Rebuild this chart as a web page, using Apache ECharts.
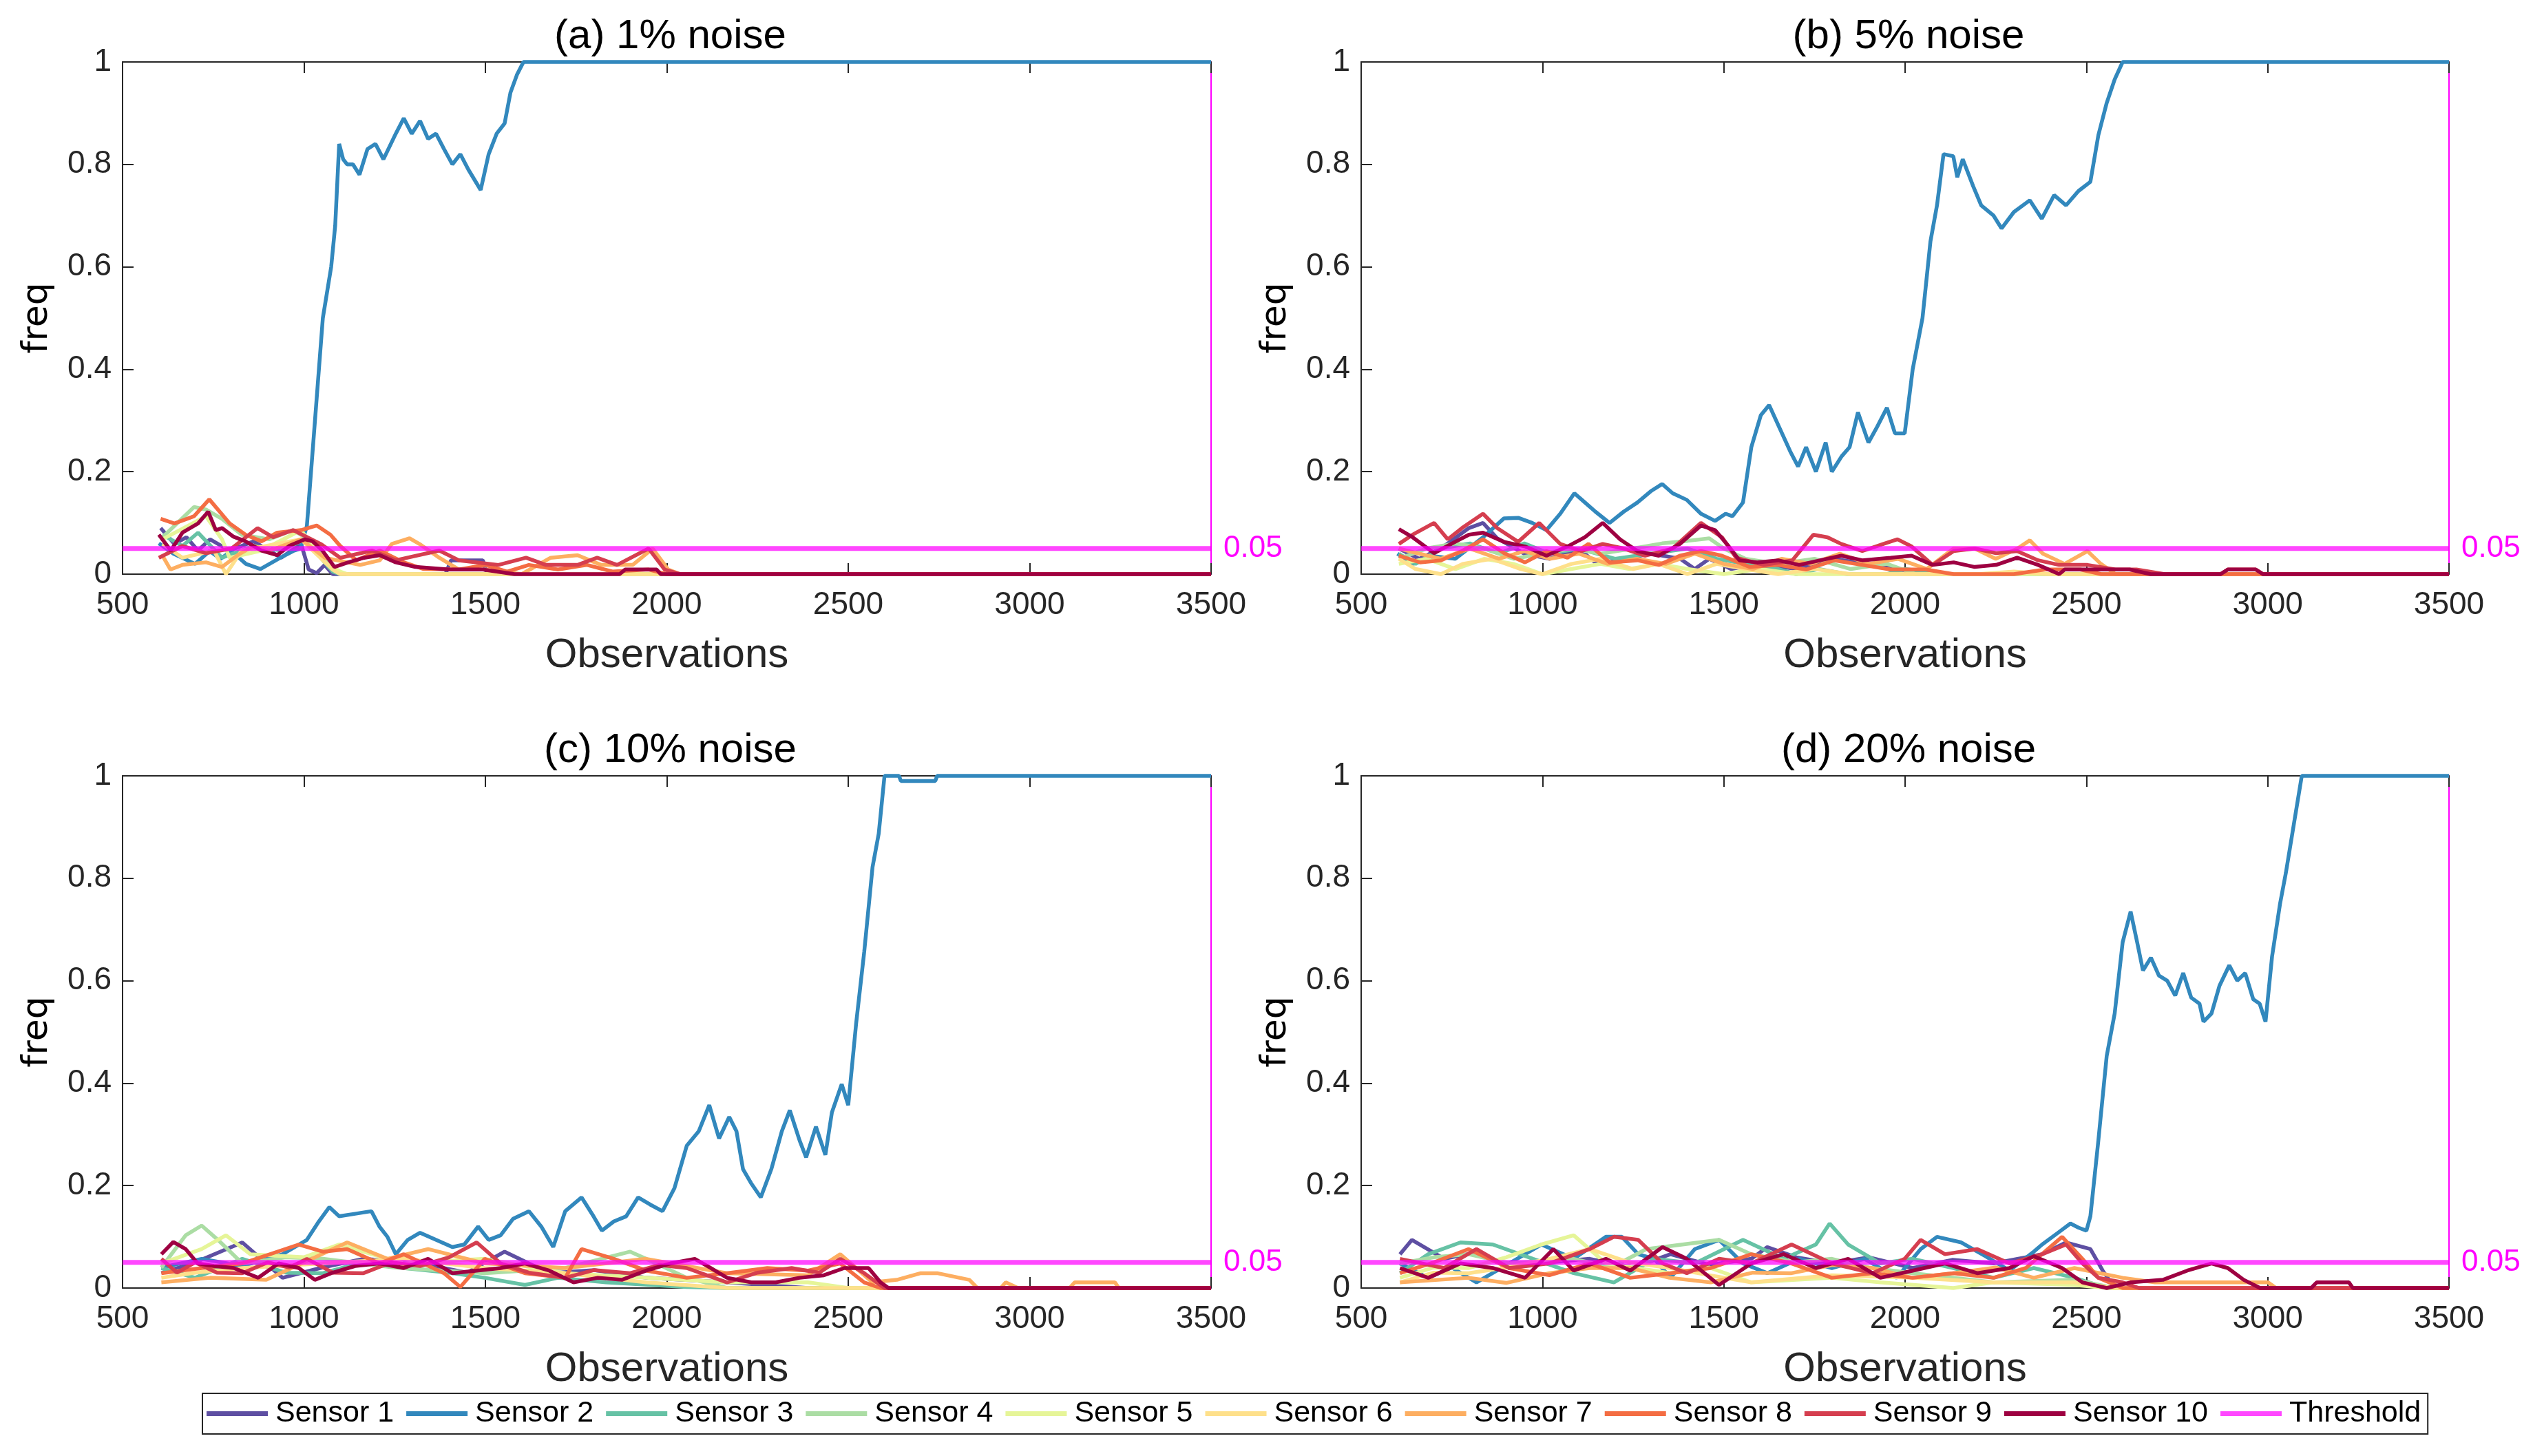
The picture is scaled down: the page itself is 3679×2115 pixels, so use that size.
<!DOCTYPE html>
<html>
<head>
<meta charset="utf-8">
<script src="https://cdn.jsdelivr.net/npm/echarts@6/dist/echarts.min.js"></script>
<style>
html,body{margin:0;padding:0;background:#fff;}
#chart{width:3679px;height:2115px;}
</style>
</head>
<body>
<div id="chart"></div>
<script>
// ---------- data ----------
const titles = ['(a) 1% noise', '(b) 5% noise', '(c) 10% noise', '(d) 20% noise'];
const sensorNames = ['Sensor 1','Sensor 2','Sensor 3','Sensor 4','Sensor 5','Sensor 6','Sensor 7','Sensor 8','Sensor 9','Sensor 10'];
const thresholdName = 'Threshold';
const thresholdValue = 0.05;
const xTicks = [500, 1000, 1500, 2000, 2500, 3000, 3500];
const yTicks = [0, 0.2, 0.4, 0.6, 0.8, 1];

// (a) 1% noise
const a_s1 = [[605,0.090],[643,0.059],[676,0.072],[708,0.046],[741,0.068],[795,0.046],[861,0.064],[937,0.032],[992,0.059],[1013,0.009],[1035,0.002],[1057,0.018],[1079,0],[1390,0],[1405,0.027],[1493,0.027],[1505,0],[3500,0]];
const a_s2 = [[600,0.06],[640,0.04],[700,0.02],[740,0.045],[770,0.03],[800,0.045],[840,0.02],[880,0.01],[930,0.03],[970,0.045],[990,0.05],[1008,0.094],[1026,0.26],[1052,0.50],[1075,0.60],[1086,0.68],[1097,0.84],[1108,0.81],[1119,0.80],[1135,0.80],[1153,0.78],[1175,0.83],[1197,0.84],[1219,0.81],[1253,0.86],[1275,0.89],[1297,0.86],[1320,0.885],[1342,0.85],[1364,0.86],[1386,0.83],[1409,0.80],[1431,0.82],[1453,0.79],[1487,0.75],[1509,0.82],[1531,0.86],[1553,0.88],[1569,0.94],[1587,0.975],[1605,1],[3500,1]];
const a_s3 = [[610,0.077],[665,0.055],[708,0.081],[774,0.032],[861,0.055],[937,0.046],[1002,0.068],[1035,0.041],[1079,0.005],[1100,0],[3500,0]];
const a_s4 = [[610,0.072],[697,0.131],[730,0.126],[774,0.108],[828,0.077],[904,0.068],[970,0.086],[1013,0.068],[1079,0.009],[1100,0],[3500,0]];
const a_s5 = [[610,0.068],[730,0.113],[774,0.068],[795,0.032],[883,0.046],[992,0.086],[1057,0.023],[1100,0.005],[1120,0],[3500,0]];
const a_s6 = [[610,0.059],[665,0.032],[752,0.046],[785,0],[828,0.046],[992,0.068],[1079,0.009],[1100,0],[3500,0]];
const a_s7 = [[610,0.036],[632,0.009],[665,0.018],[730,0.023],[774,0.014],[817,0.037],[861,0.055],[904,0.046],[992,0.068],[1057,0.032],[1155,0.018],[1209,0.027],[1242,0.059],[1291,0.070],[1318,0.059],[1373,0.032],[1427,0.009],[1500,0.009],[1600,0],[1680,0.032],[1754,0.037],[1819,0.018],[1906,0.018],[1961,0.050],[2004,0.009],[2037,0],[3500,0]];
const a_s8 = [[605,0.108],[643,0.099],[697,0.113],[739,0.146],[795,0.099],[839,0.077],[883,0.064],[926,0.081],[992,0.086],[1035,0.095],[1073,0.077],[1100,0.055],[1144,0.027],[1209,0.046],[1275,0.023],[1330,0.010],[1427,0.009],[1500,0.018],[1560,0.005],[1620,0.018],[1700,0.009],[1780,0.018],[1850,0.005],[1950,0.009],[2000,0],[3500,0]];
const a_s9 = [[600,0.032],[665,0.055],[730,0.041],[800,0.050],[872,0.090],[915,0.072],[970,0.086],[1046,0.059],[1100,0.032],[1188,0.046],[1253,0.027],[1373,0.046],[1427,0.027],[1536,0.018],[1612,0.032],[1667,0.018],[1754,0.018],[1808,0.032],[1863,0.018],[1950,0.050],[1994,0.009],[2037,0],[3500,0]];
const a_s10 = [[600,0.077],[633,0.046],[665,0.081],[708,0.099],[736,0.122],[757,0.086],[774,0.090],[806,0.073],[839,0.064],[883,0.046],[926,0.037],[959,0.055],[1002,0.068],[1024,0.064],[1051,0.046],[1084,0.014],[1122,0.023],[1166,0.032],[1209,0.037],[1253,0.023],[1307,0.014],[1400,0.009],[1493,0.009],[1580,0],[1870,0],[1885,0.009],[1972,0.009],[1983,0],[3500,0]];

// (b) 5% noise
const b_s1 = [[604,0.05],[660,0.03],[720,0.05],[797,0.09],[836,0.10],[875,0.07],[950,0.04],[1020,0.03],[1100,0.05],[1150,0.02],[1220,0.03],[1300,0.04],[1380,0.03],[1420,0.01],[1460,0.03],[1520,0.01],[1600,0.02],[1700,0.01],[1800,0.03],[1900,0.02],[1980,0.01],[2050,0],[3500,0]];
const b_s2 = [[600,0.04],[642,0.02],[700,0.035],[760,0.03],[836,0.072],[894,0.109],[933,0.11],[972,0.10],[1011,0.086],[1049,0.118],[1088,0.158],[1117,0.14],[1146,0.122],[1185,0.10],[1224,0.122],[1262,0.14],[1301,0.163],[1330,0.176],[1359,0.158],[1398,0.145],[1437,0.118],[1476,0.104],[1505,0.118],[1524,0.113],[1553,0.14],[1576,0.248],[1602,0.31],[1625,0.33],[1654,0.285],[1683,0.24],[1705,0.21],[1727,0.248],[1754,0.20],[1781,0.257],[1798,0.20],[1825,0.23],[1847,0.248],[1870,0.316],[1899,0.257],[1921,0.285],[1950,0.325],[1972,0.275],[1999,0.275],[2021,0.40],[2048,0.50],[2070,0.65],[2088,0.72],[2106,0.82],[2133,0.816],[2144,0.775],[2159,0.81],[2188,0.757],[2210,0.72],[2244,0.70],[2266,0.675],[2300,0.707],[2344,0.73],[2377,0.694],[2411,0.74],[2444,0.72],[2478,0.748],[2511,0.766],[2533,0.857],[2556,0.92],[2578,0.966],[2600,1],[3500,1]];
const b_s3 = [[604,0.04],[650,0.02],[720,0.05],[800,0.06],[880,0.04],[950,0.06],[1020,0.04],[1100,0.05],[1200,0.03],[1300,0.04],[1400,0.05],[1480,0.03],[1560,0.02],[1650,0.01],[1700,0],[1760,0.01],[1840,0],[1950,0],[2000,0.01],[2100,0],[3500,0]];
const b_s4 = [[604,0.03],[680,0.05],[760,0.06],[840,0.05],[920,0.03],[1000,0.04],[1080,0.05],[1160,0.04],[1250,0.05],[1330,0.06],[1400,0.065],[1460,0.07],[1500,0.05],[1560,0.03],[1650,0.02],[1750,0.03],[1850,0.01],[1950,0.02],[2030,0],[3500,0]];
const b_s5 = [[604,0.02],[680,0.03],[760,0.01],[840,0.03],[920,0.02],[1000,0],[1080,0.01],[1160,0.02],[1240,0.01],[1320,0.02],[1400,0.01],[1500,0],[1600,0.01],[1700,0],[3500,0]];
const b_s6 = [[604,0.03],[650,0.01],[720,0],[780,0.02],[860,0.03],[940,0.01],[1000,0],[1080,0.02],[1160,0.03],[1250,0.01],[1320,0.02],[1400,0],[1480,0.02],[1560,0.01],[1650,0],[1750,0.01],[1850,0],[2200,0],[2300,0.005],[2400,0],[3500,0]];
const b_s7 = [[604,0.05],[660,0.04],[720,0.03],[800,0.05],[880,0.03],[950,0.045],[1020,0.03],[1100,0.04],[1180,0.02],[1260,0.03],[1340,0.02],[1420,0.04],[1500,0.02],[1580,0.01],[1660,0.03],[1740,0.02],[1820,0.04],[1900,0.02],[1980,0.03],[2060,0.01],[2134,0.05],[2192,0.05],[2250,0.03],[2310,0.05],[2344,0.066],[2380,0.04],[2440,0.02],[2503,0.045],[2540,0.02],[2580,0],[3500,0]];
const b_s8 = [[604,0.036],[662,0.023],[720,0.027],[778,0.045],[836,0.068],[894,0.041],[952,0.023],[1011,0.045],[1069,0.032],[1127,0.059],[1185,0.023],[1262,0.027],[1321,0.018],[1379,0.036],[1437,0.045],[1495,0.036],[1572,0.014],[1650,0.018],[1727,0.009],[1805,0.027],[1882,0.018],[1960,0.009],[2057,0.009],[2134,0],[2300,0],[2386,0.009],[2483,0.009],[2541,0],[3500,0]];
const b_s9 = [[604,0.059],[642,0.077],[701,0.10],[739,0.068],[778,0.09],[836,0.118],[875,0.09],[933,0.063],[991,0.10],[1049,0.059],[1107,0.045],[1166,0.059],[1224,0.05],[1282,0.036],[1359,0.05],[1437,0.10],[1495,0.072],[1534,0.032],[1611,0.018],[1689,0.027],[1747,0.077],[1786,0.072],[1824,0.059],[1882,0.045],[1940,0.059],[1979,0.068],[2018,0.054],[2076,0.018],[2134,0.045],[2192,0.05],[2251,0.041],[2309,0.045],[2367,0.027],[2425,0.018],[2503,0.018],[2580,0.009],[2638,0.009],[2716,0],[2870,0],[2890,0.009],[2967,0.009],[2987,0],[3500,0]];
const b_s10 = [[604,0.088],[642,0.072],[701,0.041],[759,0.063],[797,0.077],[836,0.081],[894,0.063],[952,0.054],[1011,0.036],[1069,0.054],[1117,0.072],[1166,0.10],[1214,0.068],[1262,0.045],[1321,0.036],[1379,0.059],[1437,0.095],[1476,0.086],[1514,0.054],[1543,0.027],[1592,0.023],[1650,0.027],[1708,0.018],[1766,0.027],[1824,0.036],[1882,0.027],[1960,0.032],[2018,0.036],[2076,0.018],[2134,0.023],[2192,0.014],[2251,0.018],[2309,0.032],[2367,0.018],[2425,0],[2440,0.009],[2580,0.009],[2619,0.009],[2677,0],[2870,0],[2890,0.009],[2967,0.009],[2987,0],[3500,0]];

// (c) 10% noise
const c_s1 = [[607,0.029],[700,0.05],[830,0.089],[941,0.02],[1050,0.04],[1164,0.057],[1320,0.048],[1450,0.03],[1553,0.071],[1676,0.029],[1800,0.035],[1943,0.02],[2166,0.011],[2389,0],[3500,0]];
const c_s2 = [[607,0.04],[718,0.057],[830,0.043],[941,0.066],[1008,0.094],[1041,0.13],[1070,0.158],[1097,0.14],[1141,0.145],[1186,0.15],[1208,0.12],[1230,0.10],[1253,0.066],[1286,0.094],[1320,0.108],[1364,0.094],[1409,0.08],[1442,0.085],[1480,0.12],[1509,0.094],[1542,0.103],[1576,0.135],[1620,0.15],[1654,0.12],[1687,0.08],[1720,0.15],[1765,0.177],[1798,0.14],[1821,0.112],[1854,0.13],[1888,0.14],[1921,0.177],[1954,0.163],[1988,0.15],[2021,0.195],[2055,0.278],[2088,0.306],[2117,0.357],[2144,0.292],[2172,0.334],[2192,0.306],[2210,0.232],[2232,0.205],[2259,0.177],[2288,0.232],[2317,0.306],[2339,0.347],[2366,0.288],[2384,0.255],[2411,0.315],[2437,0.26],[2455,0.343],[2482,0.398],[2500,0.357],[2522,0.518],[2544,0.656],[2567,0.822],[2584,0.887],[2600,1],[2640,1],[2645,0.99],[2740,0.99],[2745,1],[3500,1]];
const c_s3 = [[607,0.039],[700,0.02],[830,0.057],[950,0.03],[1052,0.029],[1160,0.05],[1275,0.039],[1400,0.03],[1498,0.02],[1609,0.006],[1700,0.02],[1832,0.011],[2055,0.002],[2166,0],[3500,0]];
const c_s4 = [[607,0.04],[674,0.103],[718,0.122],[763,0.094],[830,0.048],[950,0.06],[1052,0.057],[1250,0.04],[1498,0.029],[1720,0.039],[1899,0.071],[1943,0.057],[2055,0.02],[2166,0],[3500,0]];
const c_s5 = [[607,0.048],[718,0.076],[785,0.103],[852,0.066],[1000,0.06],[1097,0.085],[1275,0.048],[1498,0.057],[1720,0.029],[1943,0.02],[2166,0.011],[2389,0.011],[2500,0],[3500,0]];
const c_s6 = [[607,0.02],[700,0.03],[830,0.039],[1052,0.048],[1275,0.057],[1498,0.039],[1720,0.029],[1943,0.011],[2166,0],[3500,0]];
const c_s7 = [[607,0.011],[741,0.02],[896,0.016],[1000,0.05],[1119,0.089],[1230,0.057],[1342,0.076],[1498,0.048],[1720,0.039],[1943,0.057],[2166,0.029],[2389,0.025],[2478,0.066],[2567,0.011],[2634,0.016],[2700,0.029],[2745,0.029],[2834,0.016],[2856,0],[2920,0],[2934,0.011],[2968,0],[3110,0],[3124,0.011],[3235,0.011],[3246,0],[3500,0]];
const c_s8 = [[607,0.029],[718,0.039],[830,0.048],[986,0.085],[1052,0.071],[1119,0.076],[1208,0.048],[1275,0.066],[1386,0.029],[1431,0.002],[1498,0.057],[1609,0.029],[1720,0.02],[1765,0.076],[1854,0.057],[1943,0.034],[2055,0.02],[2166,0.029],[2277,0.039],[2389,0.034],[2478,0.048],[2544,0.011],[2589,0],[3500,0]];
const c_s9 = [[607,0.057],[650,0.03],[700,0.05],[760,0.03],[830,0.029],[900,0.05],[960,0.04],[1008,0.057],[1080,0.03],[1164,0.029],[1240,0.05],[1320,0.043],[1400,0.06],[1476,0.089],[1542,0.048],[1620,0.03],[1720,0.02],[1800,0.035],[1899,0.029],[1980,0.045],[2055,0.039],[2110,0.025],[2166,0.011],[2250,0.03],[2344,0.039],[2420,0.03],[2478,0.057],[2544,0.029],[2600,0],[3500,0]];
const c_s10 = [[607,0.066],[640,0.09],[674,0.076],[707,0.048],[752,0.043],[807,0.039],[874,0.02],[930,0.048],[986,0.039],[1030,0.016],[1075,0.029],[1141,0.043],[1208,0.048],[1275,0.039],[1342,0.057],[1409,0.029],[1476,0.034],[1542,0.039],[1609,0.048],[1676,0.034],[1743,0.011],[1810,0.02],[1876,0.016],[1943,0.034],[2010,0.048],[2077,0.057],[2121,0.039],[2166,0.02],[2233,0.011],[2300,0.011],[2366,0.02],[2433,0.025],[2489,0.039],[2556,0.039],[2589,0.011],[2611,0],[3500,0]];

// (d) 20% noise
const d_s1 = [[607,0.066],[640,0.094],[729,0.057],[820,0.07],[908,0.039],[1020,0.05],[1130,0.057],[1250,0.04],[1353,0.066],[1460,0.045],[1576,0.057],[1620,0.08],[1700,0.06],[1798,0.048],[1900,0.06],[2021,0.039],[2130,0.055],[2244,0.048],[2378,0.066],[2444,0.089],[2511,0.076],[2545,0.034],[2578,0],[3500,0]];
const d_s2 = [[607,0.048],[685,0.02],[750,0.04],[818,0.011],[908,0.048],[997,0.085],[1086,0.057],[1175,0.1],[1219,0.1],[1264,0.066],[1308,0.057],[1353,0.02],[1420,0.076],[1487,0.094],[1553,0.048],[1620,0.029],[1709,0.057],[1798,0.039],[1888,0.057],[1977,0.02],[2043,0.076],[2088,0.1],[2155,0.089],[2222,0.062],[2288,0.034],[2355,0.071],[2378,0.085],[2422,0.108],[2456,0.126],[2478,0.118],[2500,0.112],[2511,0.14],[2533,0.288],[2556,0.453],[2578,0.536],[2600,0.675],[2622,0.735],[2640,0.675],[2656,0.62],[2678,0.645],[2700,0.61],[2723,0.60],[2745,0.571],[2767,0.615],[2789,0.567],[2812,0.555],[2823,0.52],[2845,0.536],[2867,0.59],[2894,0.63],[2916,0.60],[2938,0.615],[2960,0.564],[2978,0.555],[2994,0.52],[3012,0.647],[3034,0.75],[3050,0.81],[3072,0.905],[3094,1],[3500,1]];
const d_s3 = [[607,0.029],[685,0.066],[774,0.089],[863,0.085],[974,0.057],[1086,0.029],[1197,0.011],[1308,0.057],[1420,0.048],[1553,0.094],[1665,0.057],[1754,0.085],[1792,0.126],[1843,0.085],[1932,0.048],[2021,0.057],[2133,0.039],[2244,0.02],[2355,0.039],[2467,0.02],[2556,0],[3500,0]];
const d_s4 = [[607,0.048],[700,0.06],[796,0.066],[908,0.048],[1086,0.057],[1190,0.04],[1286,0.076],[1487,0.094],[1576,0.066],[1700,0.05],[1798,0.057],[1900,0.04],[2021,0.029],[2244,0.011],[2467,0.016],[2578,0],[3500,0]];
const d_s5 = [[607,0.02],[700,0.04],[796,0.039],[900,0.06],[997,0.085],[1086,0.103],[1175,0.048],[1353,0.029],[1460,0.04],[1576,0.011],[1798,0.02],[1932,0.011],[2133,0],[2244,0.011],[2467,0.006],[2556,0],[3500,0]];
const d_s6 = [[607,0.011],[700,0.03],[796,0.029],[900,0.04],[1019,0.057],[1130,0.076],[1240,0.05],[1353,0.039],[1460,0.025],[1576,0.011],[1798,0.025],[2021,0.02],[2244,0.011],[2467,0.011],[2578,0],[3500,0]];
const d_s7 = [[607,0.011],[796,0.02],[900,0.01],[1019,0.029],[1130,0.039],[1242,0.039],[1350,0.02],[1464,0.011],[1580,0.03],[1687,0.029],[1800,0.045],[1910,0.039],[2020,0.02],[2133,0.029],[2250,0.04],[2355,0.02],[2467,0.039],[2600,0.02],[2689,0.011],[3001,0.011],[3023,0],[3500,0]];
const d_s8 = [[607,0.029],[700,0.05],[796,0.076],[908,0.039],[1019,0.025],[1130,0.048],[1242,0.02],[1353,0.029],[1464,0.039],[1576,0.066],[1687,0.048],[1798,0.02],[1910,0.029],[2021,0.02],[2133,0.029],[2244,0.02],[2333,0.039],[2433,0.1],[2489,0.057],[2533,0.02],[2600,0],[3500,0]];
const d_s9 = [[607,0.057],[729,0.039],[818,0.076],[908,0.039],[1019,0.048],[1130,0.076],[1197,0.1],[1264,0.094],[1331,0.048],[1398,0.029],[1487,0.057],[1576,0.048],[1687,0.085],[1798,0.048],[1910,0.029],[1999,0.057],[2043,0.094],[2110,0.066],[2199,0.076],[2288,0.048],[2378,0.066],[2444,0.085],[2489,0.048],[2533,0.02],[2600,0.011],[2645,0],[3500,0]];
const d_s10 = [[607,0.039],[685,0.02],[774,0.048],[863,0.039],[952,0.02],[1030,0.076],[1086,0.034],[1175,0.057],[1242,0.034],[1331,0.08],[1398,0.057],[1487,0.006],[1576,0.048],[1665,0.066],[1754,0.039],[1843,0.057],[1932,0.02],[2021,0.034],[2110,0.048],[2199,0.029],[2288,0.039],[2355,0.062],[2433,0.039],[2489,0.011],[2556,0],[2622,0.011],[2711,0.016],[2778,0.034],[2845,0.048],[2890,0.039],[2934,0.016],[2979,0],[3120,0],[3135,0.011],[3224,0.011],[3235,0],[3500,0]];

const panelData = [
  [a_s1,a_s2,a_s3,a_s4,a_s5,a_s6,a_s7,a_s8,a_s9,a_s10],
  [b_s1,b_s2,b_s3,b_s4,b_s5,b_s6,b_s7,b_s8,b_s9,b_s10],
  [c_s1,c_s2,c_s3,c_s4,c_s5,c_s6,c_s7,c_s8,c_s9,c_s10],
  [d_s1,d_s2,d_s3,d_s4,d_s5,d_s6,d_s7,d_s8,d_s9,d_s10]
];

// ---------- styles ----------
const sensorColors = ['#5e4fa2','#3288bd','#66c2a5','#abdda4','#e6f598','#fee08b','#fdae61','#f46d43','#d53e4f','#9e0142'];
const thresholdColor = 'rgba(255,0,255,0.72)';
const FONT = 'Liberation Sans, Arial, sans-serif';
const AXIS = '#262626';
const grids = [
  {left:178, top:90, width:1581, height:744},
  {left:1977, top:90, width:1580, height:744},
  {left:178, top:1127, width:1581, height:744},
  {left:1977, top:1127, width:1580, height:744}
];

const option = {
  backgroundColor:'#ffffff',
  animation:false,
  textStyle:{fontFamily:FONT},
  title: titles.map((t,i)=>({
    text:t, left: grids[i].left + grids[i].width/2, top: grids[i].top - 72,
    textAlign:'center',
    textStyle:{fontFamily:FONT, fontSize:60, fontWeight:'normal', color:'#000'}
  })),
  grid: grids.map(g=>Object.assign({containLabel:false}, g)),
  xAxis: [], yAxis: [], series: [],
  legend:{
    left:294, top:2024, orient:'horizontal',
    data: sensorNames.concat([thresholdName]),
    icon:'rect', itemWidth:89, itemHeight:7, itemGap:18,
    padding:[8,10,8,6],
    borderColor:AXIS, borderWidth:2, backgroundColor:'#fff',
    textStyle:{fontFamily:FONT, fontSize:43, color:'#000', padding:[0,0,0,6]},
    selectedMode:false
  }
};

grids.forEach((g,i)=>{
  option.xAxis.push({
    gridIndex:i, type:'value', min:xTicks[0], max:xTicks[xTicks.length-1], interval:500,
    position:'bottom',
    axisLine:{show:true, onZero:false, lineStyle:{color:AXIS, width:2}},
    axisTick:{show:true, inside:true, length:16, lineStyle:{color:AXIS, width:2}},
    axisLabel:{fontFamily:FONT, fontSize:46, color:AXIS, margin:22, formatter:(v)=>String(v)},
    splitLine:{show:false},
    name:'Observations', nameLocation:'middle', nameGap:88,
    nameTextStyle:{fontFamily:FONT, fontSize:60, color:AXIS}
  });
  option.xAxis.push({
    gridIndex:i, type:'value', min:xTicks[0], max:xTicks[xTicks.length-1], interval:500,
    position:'top',
    axisLine:{show:true, onZero:false, lineStyle:{color:AXIS, width:2}},
    axisTick:{show:true, inside:true, length:16, lineStyle:{color:AXIS, width:2}},
    axisLabel:{show:false}, splitLine:{show:false}
  });
  option.yAxis.push({
    gridIndex:i, type:'value', min:yTicks[0], max:yTicks[yTicks.length-1], interval:0.2,
    position:'left',
    axisLine:{show:true, onZero:false, lineStyle:{color:AXIS, width:2}},
    axisTick:{show:true, inside:true, length:16, lineStyle:{color:AXIS, width:2}},
    axisLabel:{fontFamily:FONT, fontSize:46, color:AXIS, margin:16, formatter:(v)=>String(v)},
    splitLine:{show:false},
    name:'freq', nameLocation:'middle', nameGap:98, nameRotate:90,
    nameTextStyle:{fontFamily:'DejaVu Sans, sans-serif', fontSize:52, color:'#000'}
  });
  option.yAxis.push({
    gridIndex:i, type:'value', min:0, max:1, position:'right',
    axisLine:{show:true, onZero:false, lineStyle:{color:'#ff00ff', width:2}},
    axisTick:{show:false}, axisLabel:{show:false}, splitLine:{show:false}
  });
  panelData[i].forEach((d,k)=>{
    option.series.push({
      name:sensorNames[k], type:'line', xAxisIndex:2*i, yAxisIndex:2*i,
      data:d, showSymbol:false, symbol:'none', clip:false,
      lineStyle:{color:sensorColors[k], width:5.5}, itemStyle:{color:sensorColors[k]},
      z:2+k*0.01
    });
  });
  option.series.push({
    name:thresholdName, type:'line', xAxisIndex:2*i, yAxisIndex:2*i,
    data:[[xTicks[0],thresholdValue],[xTicks[xTicks.length-1],thresholdValue]],
    showSymbol:false, symbol:'none', clip:false,
    lineStyle:{color:thresholdColor, width:7}, itemStyle:{color:thresholdColor},
    endLabel:{show:true, formatter:String(thresholdValue), color:'#ff00ff', fontFamily:FONT, fontSize:44, distance:18},
    z:3
  });
});

const chart = echarts.init(document.getElementById('chart'), null, {renderer:'canvas'});
chart.setOption(option);
</script>
</body>
</html>
